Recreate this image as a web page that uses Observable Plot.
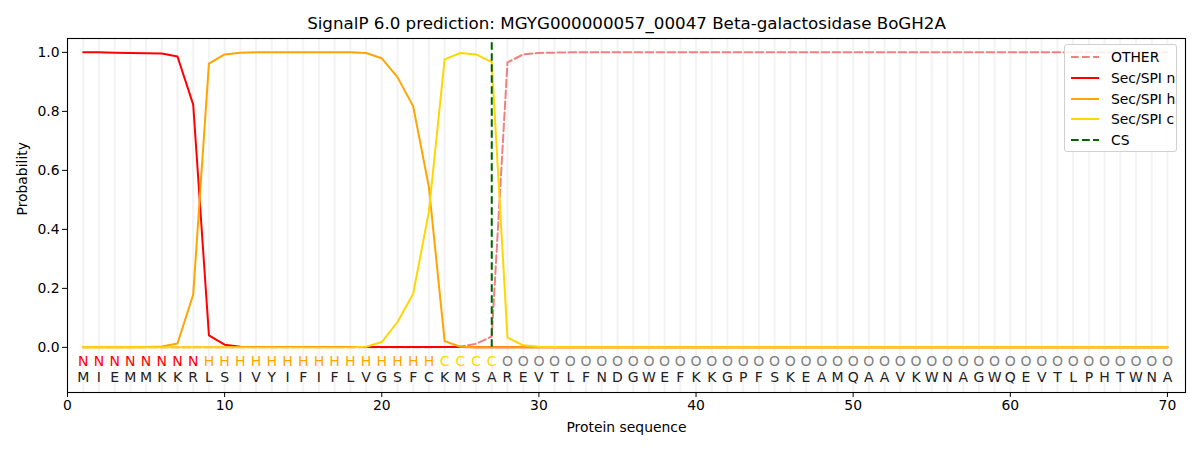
<!DOCTYPE html>
<html>
<head>
<meta charset="utf-8">
<script src="https://cdn.jsdelivr.net/npm/d3@7"></script>
<script src="https://cdn.jsdelivr.net/npm/@observablehq/plot@0.6"></script>
<style>
  body { margin: 0; background: #fff; font-family: "DejaVu Sans", sans-serif; }
  #wrap { position: relative; width: 1200px; height: 450px; }
  #legend { position: absolute; left: 1064px; top: 44px; width: 113px; height: 108px; box-sizing: border-box;
    border: 1px solid #d0d0d0; border-radius: 3px; background: rgba(255,255,255,0.85);
    font-family: "DejaVu Sans", sans-serif; font-size: 13.9px; color: #000; white-space: nowrap; }
  .li { position: absolute; left: 6px; height: 16px; display: flex; align-items: center; white-space: nowrap; }
  .li svg { width: 28px; height: 6px; margin-right: 12px; flex: none; }
</style>
</head>
<body>
<div id="wrap"></div>
<script>
const title = "SignalP 6.0 prediction: MGYG000000057_00047 Beta-galactosidase BoGH2A";
const sequence = ["M","I","E","M","M","K","K","R","L","S","I","V","Y","I","F","I","F","L","V","G","S","F","C","K","M","S","A","R","E","V","T","L","F","N","D","G","W","E","F","K","K","G","P","F","S","K","E","A","M","Q","A","A","V","K","W","N","A","G","W","Q","E","V","T","L","P","H","T","W","N","A"];
const regions = ["N","N","N","N","N","N","N","N","H","H","H","H","H","H","H","H","H","H","H","H","H","H","H","C","C","C","C","O","O","O","O","O","O","O","O","O","O","O","O","O","O","O","O","O","O","O","O","O","O","O","O","O","O","O","O","O","O","O","O","O","O","O","O","O","O","O","O","O","O","O"];
const other = [0,0,0,0,0,0,0,0,0,0,0,0,0,0,0,0,0,0,0,0,0,0,0,0.001,0.003,0.012,0.037,0.966,0.993,0.998,0.999,1,1,1,1,1,1,1,1,1,1,1,1,1,1,1,1,1,1,1,1,1,1,1,1,1,1,1,1,1,1,1,1,1,1,1,1,1,1,1];
const secN = [1.0,1.0,0.999,0.998,0.997,0.996,0.986,0.823,0.041,0.009,0.002,0.001,0.001,0.001,0.001,0.001,0.001,0.001,0.001,0.001,0.001,0.001,0.001,0.001,0.001,0,0,0,0,0,0,0,0,0,0,0,0,0,0,0,0,0,0,0,0,0,0,0,0,0,0,0,0,0,0,0,0,0,0,0,0,0,0,0,0,0,0,0,0,0];
const secH = [0,0,0,0,0.001,0.003,0.013,0.179,0.962,0.993,0.999,1,1,1,1,1,1,1,0.998,0.98,0.916,0.817,0.543,0.021,0.002,0,0,0,0,0,0,0,0,0,0,0,0,0,0,0,0,0,0,0,0,0,0,0,0,0,0,0,0,0,0,0,0,0,0,0,0,0,0,0,0,0,0,0,0,0];
const secC = [0,0,0,0,0,0,0,0,0,0,0,0,0,0,0,0,0,0,0.002,0.018,0.086,0.182,0.46,0.976,0.998,0.993,0.967,0.033,0.007,0.002,0.001,0,0,0,0,0,0,0,0,0,0,0,0,0,0,0,0,0,0,0,0,0,0,0,0,0,0,0,0,0,0,0,0,0,0,0,0,0,0,0];
const csPos = [27];
const xTicks = [0,10,20,30,40,50,60,70];
const yTicks = [0,0.2,0.4,0.6,0.8,1.0];

const positions = sequence.map((_, i) => i + 1);
const regionColor = {N: "red", H: "orange", C: "gold", O: "gray"};
const seriesDefs = [
  {name: "OTHER", values: other, color: "#f08080", dash: "7.7,3.3"},
  {name: "Sec/SPI n", values: secN, color: "red", dash: null},
  {name: "Sec/SPI h", values: secH, color: "orange", dash: null},
  {name: "Sec/SPI c", values: secC, color: "gold", dash: null}
];
const residues = positions.map((p, i) => ({pos: p, aa: sequence[i], region: regions[i]}));

const font = "DejaVu Sans, sans-serif";
const marks = [
  Plot.ruleX(positions, {x: d => d, stroke: "#f3f3f3", strokeWidth: 2}),
  ...seriesDefs.map(s => Plot.line(positions, {
    x: d => d, y: (d, i) => s.values[i], stroke: s.color, strokeWidth: 2,
    strokeDasharray: s.dash
  })),
  Plot.ruleX(csPos, {x: d => d, y1: 0, y2: 1.035, stroke: "#006400", strokeWidth: 2, strokeDasharray: "7.7,3.3"}),
  Plot.text(residues, {x: "pos", y: -0.047, text: "region", fill: d => regionColor[d.region], fontSize: 14, fontFamily: font}),
  Plot.text(residues, {x: "pos", y: -0.102, text: "aa", fill: "#222", fontSize: 14, fontFamily: font}),
  Plot.frame({stroke: "black", strokeWidth: 1.1}),
  Plot.axisX({ticks: xTicks, tickSize: 5, tickPadding: 3, fontSize: 13.9, fontFamily: font, label: null, tickFormat: d3.format("d")}),
  Plot.axisY({ticks: yTicks, tickSize: 5, tickPadding: 3, fontSize: 13.9, fontFamily: font, label: null, tickFormat: d3.format(".1f")}),
  Plot.text([title], {frameAnchor: "top", lineAnchor: "middle", dy: -15, text: d => d, fontSize: 16.7, fontFamily: font, fill: "#000"}),
  Plot.text(["Probability"], {frameAnchor: "left", dx: -45, rotate: -90, text: d => d, fontSize: 13.9, fontFamily: font, fill: "#000"}),
  Plot.text(["Protein sequence"], {frameAnchor: "bottom", lineAnchor: "middle", dy: 35, text: d => d, fontSize: 13.9, fontFamily: font, fill: "#000"})
];

const chart = Plot.plot({
  width: 1200, height: 450,
  marginLeft: 67, marginRight: 15, marginTop: 38, marginBottom: 58,
  x: {domain: [0, 71.15], axis: null},
  y: {domain: [-0.153, 1.047], axis: null},
  style: {fontFamily: font, background: "white", color: "black"},
  marks
});
const wrap = document.getElementById("wrap");
wrap.appendChild(chart);

// legend
const legend = document.createElement("div");
legend.id = "legend";
const legendItems = [...seriesDefs.map(s => ({name: s.name, color: s.color, dash: s.dash})), {name: "CS", color: "#006400", dash: "7.7,3.3"}];
legendItems.forEach((it, i) => {
  const row = document.createElement("div");
  row.className = "li";
  row.style.top = (4 + i * 20.8) + "px";
  row.innerHTML = `<svg viewBox="0 0 28 6"><line x1="0" y1="3" x2="28" y2="3" stroke="${it.color}" stroke-width="2" ${it.dash ? `stroke-dasharray="${it.dash}"` : ""}/></svg><span>${it.name}</span>`;
  legend.appendChild(row);
});
wrap.appendChild(legend);
</script>
</body>
</html>
